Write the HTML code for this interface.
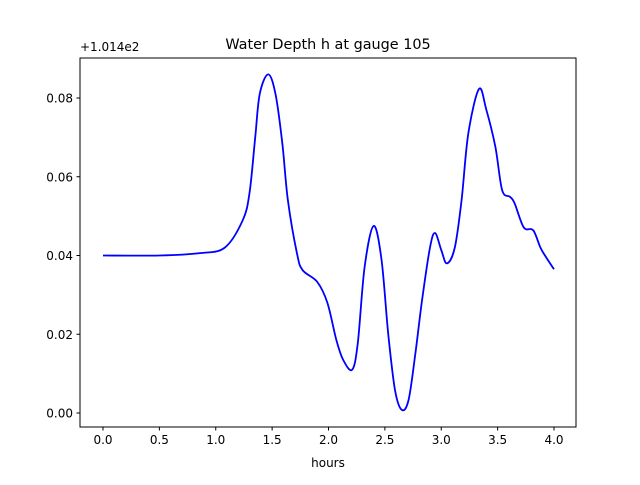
<!DOCTYPE html>
<html><head><meta charset="utf-8"><style>
body{margin:0;background:#fff}
svg{font-family:"DejaVu Sans","Liberation Sans",sans-serif}
</style></head><body>
<svg id="c" width="640" height="480">
<rect width="640" height="480" fill="#fff"/>
<text x="328" y="49" font-size="14.4" text-anchor="middle">Water Depth h at gauge 105</text>
<text x="80" y="51" font-size="12">+1.014e2</text>
<text x="328" y="467" font-size="12" text-anchor="middle">hours</text>
<g id="ticks"></g>
<path id="line" fill="none" stroke="#0000ff" stroke-width="1.8"/>
<rect x="80" y="58" width="496" height="369" fill="none" stroke="#000" stroke-width="1"/>
</svg>
<script>
const times=[0,0.5,0.86,1.08,1.24,1.30,1.35,1.39,1.465,1.53,1.59,1.64,1.72,1.77,1.90,1.99,2.07,2.13,2.21,2.26,2.32,2.40,2.47,2.53,2.59,2.65,2.71,2.77,2.83,2.90,2.945,3.0,3.05,3.12,3.18,3.24,3.335,3.40,3.48,3.54,3.61,3.65,3.73,3.80,3.83,3.88,3.92,4.0];
const depths=[0.040,0.040,0.0406,0.042,0.049,0.056,0.070,0.081,0.086,0.081,0.0686,0.054,0.0406,0.0363,0.0333,0.028,0.0185,0.0135,0.011,0.0178,0.037,0.0475,0.039,0.020,0.0058,0.0008,0.0033,0.015,0.0287,0.042,0.0457,0.0414,0.038,0.042,0.054,0.071,0.0823,0.077,0.0676,0.0566,0.0549,0.0533,0.0472,0.0467,0.0457,0.042,0.040,0.0365];
const xTicks=[0,0.5,1.0,1.5,2.0,2.5,3.0,3.5,4.0];
const yTicks=[0,0.02,0.04,0.06,0.08];
const xs=t=>103+t*112.75, ys=v=>413-v*3937.5;
const NS="http://www.w3.org/2000/svg", g=document.getElementById('ticks');
function mk(tag,at,txt){const e=document.createElementNS(NS,tag);for(const k in at)e.setAttribute(k,at[k]);if(txt!==undefined)e.textContent=txt;g.appendChild(e);return e;}
xTicks.forEach(t=>{const x=xs(t);
 const l=mk('line',{x1:x,x2:x,y1:427,y2:430.5,stroke:'#000'});
 
 
 const s=mk('text',{x:x,y:444,'font-size':12,'text-anchor':'middle'},t.toFixed(1));
 
 });
yTicks.forEach(v=>{const y=ys(v);
 const l=mk('line',{x1:76.5,x2:80,y1:y,y2:y,stroke:'#000'});
 
 
 const s=mk('text',{x:73,y:y+4.5,'font-size':12,'text-anchor':'end'},v.toFixed(2));
 
 });
const P=times.map((t,i)=>[xs(t),ys(depths[i])]);
let d='M'+P[0][0]+','+P[0][1];
for(let i=0;i<P.length-1;i++){const p0=P[Math.max(0,i-1)],p1=P[i],p2=P[i+1],p3=P[Math.min(P.length-1,i+2)];
 const c1=[p1[0]+(p2[0]-p0[0])/6,p1[1]+(p2[1]-p0[1])/6],c2=[p2[0]-(p3[0]-p1[0])/6,p2[1]-(p3[1]-p1[1])/6];
 d+=` C${c1[0]},${c1[1]} ${c2[0]},${c2[1]} ${p2[0]},${p2[1]}`;}
document.getElementById('line').setAttribute('d',d);
</script>
</body></html>
